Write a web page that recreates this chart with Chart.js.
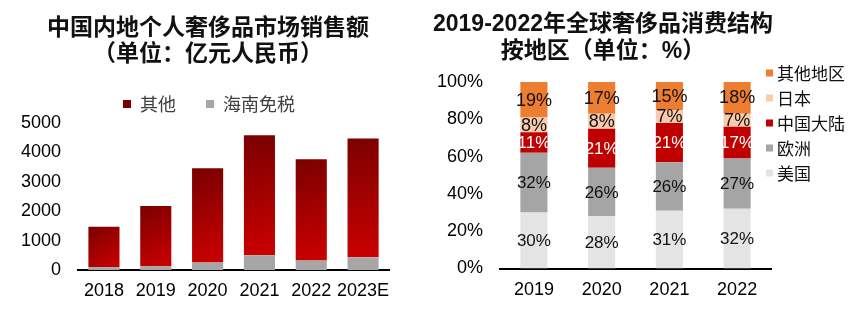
<!DOCTYPE html>
<html>
<head>
<meta charset="utf-8">
<script src="https://cdn.jsdelivr.net/npm/chart.js@4.4.0/dist/chart.umd.min.js"></script>
<style>
  body { margin: 0; background: #fff; }
  #page { position: relative; width: 857px; height: 318px; overflow: hidden; background: #fff; }
  .box { position: absolute; top: 0; height: 318px; }
  #leftBox { left: 0; width: 420px; }
  #rightBox { left: 420px; width: 437px; }
  .title {
    position: absolute;
    text-align: center;
    font-family: "Liberation Sans", "Noto Sans CJK SC", sans-serif;
    font-weight: bold;
    font-size: 23px;
    color: #111;
    white-space: nowrap;
  }
  #leftTitle { left: 0; width: 416px; top: 14px; line-height: 26px; }
  #rightTitle { left: 403px; width: 400px; top: 10px; line-height: 27px; }
</style>
</head>
<body>
<div id="page">
  <div class="box" id="leftBox"><canvas id="salesChart" width="420" height="318"></canvas></div>
  <div class="box" id="rightBox"><canvas id="regionChart" width="437" height="318"></canvas></div>
  <div class="title" id="leftTitle">中国内地个人奢侈品市场销售额<br>（单位：亿元人民币）</div>
  <div class="title" id="rightTitle">2019-2022年全球奢侈品消费结构<br>按地区（单位：%）</div>
</div>

<script>
// left chart: 亿元人民币
const years = ["2018", "2019", "2020", "2021", "2022", "2023E"];
const hainanSales = [95, 130, 255, 500, 320, 430];
const otherSales = [1375, 2050, 3205, 4080, 3450, 4045];
const salesTicks = [0, 1000, 2000, 3000, 4000, 5000];

// right chart: %
const regionYears = ["2019", "2020", "2021", "2022"];
const usShare = [30, 28, 31, 32];
const europeShare = [32, 26, 26, 27];
const chinaShare = [11, 21, 21, 17];
const japanShare = [8, 8, 7, 7];
const otherShare = [19, 17, 15, 18];
const shareTicks = [0, 20, 40, 60, 80, 100];

const baseFont = '"Liberation Sans", "Noto Sans CJK SC", sans-serif';
const cjkFont = '"Noto Sans CJK SC", "Liberation Sans", sans-serif';
Chart.defaults.font.family = baseFont;

// diagonal dark-to-bright red per bar, like the original
function redGradient(context) {
    const flat = '#b00000';
    if (context.type !== 'data') return flat;
    const chart = context.chart;
    const x = chart.scales.x;
    const y = chart.scales.y;
    if (!x || !y || !chart.chartArea) return flat;
    const i = context.dataIndex;
    const cx = x.getPixelForValue(i);
    const w = x.width / years.length * 0.6;
    const top = y.getPixelForValue(hainanSales[i] + otherSales[i]);
    const bottom = y.getPixelForValue(hainanSales[i]);
    if (![cx, w, top, bottom].every(Number.isFinite)) return flat;
    const g = chart.ctx.createLinearGradient(cx - w / 2, top, cx + w / 2, bottom);
    g.addColorStop(0, '#7a0000');
    g.addColorStop(1, '#cc0000');
    return g;
}

// nudge the top legend a bit right, it sits over the plot in the original
const legendShift = {
    id: "legendShift",
    afterLayout(chart) {
        if (chart.legend) chart.legend.left += 25;
    }
};

new Chart(document.getElementById("salesChart"), {
    type: "bar",
    data: {
        labels: years,
        datasets: [
            {
                label: "海南免税",
                data: hainanSales,
                backgroundColor: "#a6a6a6"
            },
            {
                label: "其他",
                data: otherSales,
                backgroundColor: redGradient
            }
        ]
    },
    options: {
        responsive: false,
        animation: false,
        layout: { padding: { top: 65, left: 4, right: 31, bottom: 6 } },
        datasets: { bar: { barPercentage: 0.6, categoryPercentage: 1, borderWidth: 0 } },
        scales: {
            x: {
                stacked: true,
                grid: { display: false, drawTicks: false },
                border: { display: true, color: "#000", width: 2 },
                ticks: { color: "#000", padding: 10.2, maxRotation: 0, minRotation: 0, autoSkip: false, font: { size: 18 } }
            },
            y: {
                stacked: true,
                min: 0,
                max: 5000,
                afterBuildTicks: axis => { axis.ticks = salesTicks.map(v => ({ value: v })); },
                grid: { display: false, drawTicks: false },
                border: { display: false },
                ticks: { color: "#000", padding: 17, autoSkip: false, font: { size: 18 }, callback: v => String(v) }
            }
        },
        plugins: {
            title: { display: false },
            tooltip: { enabled: false },
            legend: {
                position: "top",
                reverse: true,
                labels: {
                    boxWidth: 8,
                    boxHeight: 8,
                    padding: 30,
                    color: "#404040",
                    font: { family: cjkFont, size: 18 }
                }
            }
        }
    },
    plugins: [legendShift]
});

// value text in the middle of each segment
const segmentLabels = {
    id: "segmentLabels",
    afterDatasetsDraw(chart) {
        const ctx = chart.ctx;
        ctx.save();
        ctx.textAlign = "center";
        ctx.textBaseline = "middle";
        chart.data.datasets.forEach((ds, i) => {
            const meta = chart.getDatasetMeta(i);
            ctx.font = ds.labelSize + "px " + baseFont;
            ctx.fillStyle = ds.labelColor;
            meta.data.forEach((bar, j) => {
                ctx.fillText(ds.data[j] + "%", bar.x, (bar.y + bar.base) / 2 + 1);
            });
        });
        ctx.restore();
    }
};

// vertical legend at the top right, drawn over the plot's right edge
const sideLegend = {
    id: "sideLegend",
    afterDraw(chart, args, opts) {
        const ctx = chart.ctx;
        ctx.save();
        ctx.font = opts.size + "px " + cjkFont;
        ctx.textAlign = "left";
        ctx.textBaseline = "middle";
        chart.data.datasets.slice().reverse().forEach((ds, k) => {
            const y = opts.y + k * opts.rowHeight;
            ctx.fillStyle = ds.backgroundColor;
            ctx.fillRect(opts.x, y - opts.box / 2, opts.box, opts.box);
            ctx.fillStyle = opts.color;
            ctx.fillText(ds.label, opts.x + opts.box + opts.gap, y + 1);
        });
        ctx.restore();
    }
};

new Chart(document.getElementById("regionChart"), {
    type: "bar",
    data: {
        labels: regionYears,
        datasets: [
            { label: "美国", data: usShare, backgroundColor: "#e4e4e4", labelColor: "#111", labelSize: 17 },
            { label: "欧洲", data: europeShare, backgroundColor: "#a5a5a5", labelColor: "#111", labelSize: 17 },
            { label: "中国大陆", data: chinaShare, backgroundColor: "#c00000", labelColor: "#fff", labelSize: 17 },
            { label: "日本", data: japanShare, backgroundColor: "#f8cbad", labelColor: "#111", labelSize: 18 },
            { label: "其他地区", data: otherShare, backgroundColor: "#ed7d31", labelColor: "#111", labelSize: 18 }
        ]
    },
    options: {
        responsive: false,
        animation: false,
        layout: { padding: { top: 82, left: 0, right: 86, bottom: 6.5 } },
        datasets: { bar: { barPercentage: 0.4, categoryPercentage: 1, borderWidth: 0 } },
        scales: {
            x: {
                stacked: true,
                grid: { display: false, drawTicks: false },
                border: { display: true, color: "#000", width: 2 },
                ticks: { color: "#000", padding: 10.7, maxRotation: 0, autoSkip: false, font: { size: 18 } }
            },
            y: {
                stacked: true,
                min: 0,
                max: 100,
                afterBuildTicks: axis => { axis.ticks = shareTicks.map(v => ({ value: v })); },
                grid: { display: false, drawTicks: false },
                border: { display: false },
                ticks: { color: "#000", padding: 17, autoSkip: false, font: { size: 18 }, callback: v => v + "%" }
            }
        },
        plugins: {
            legend: { display: false },
            tooltip: { enabled: false },
            sideLegend: { x: 346, y: 73, rowHeight: 25, box: 7, gap: 4, size: 17, color: "#111" }
        }
    },
    plugins: [segmentLabels, sideLegend]
});
</script>
</body>
</html>
